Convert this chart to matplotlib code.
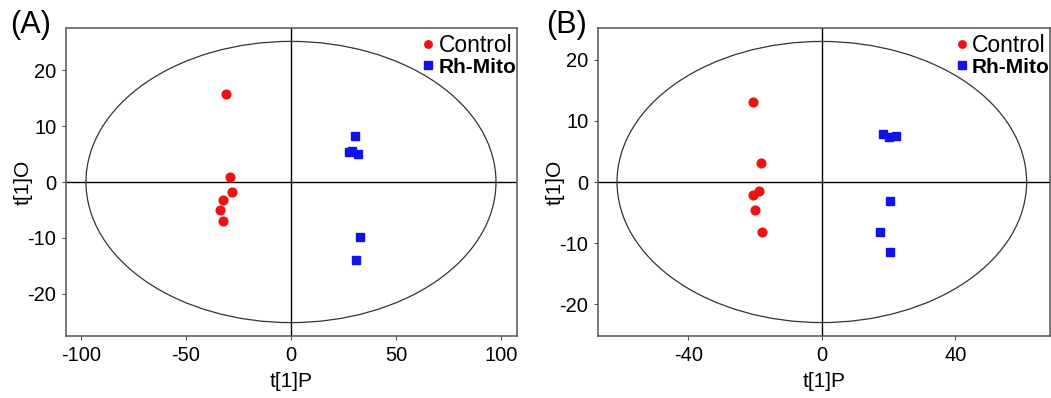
import matplotlib
matplotlib.use("Agg")
import matplotlib.pyplot as plt
from matplotlib.patches import Ellipse

plt.rcParams['font.family'] = ['Liberation Sans', 'DejaVu Sans']
plt.rcParams['axes.unicode_minus'] = False

# panel A scores
a_ctrl_x = [-31.0, -29.0, -27.9, -32.5, -33.7, -32.2]
a_ctrl_y = [15.8, 0.95, -1.85, -3.2, -5.1, -6.9]
a_mito_x = [30.6, 27.5, 29.0, 32.1, 32.8, 30.9]
a_mito_y = [8.2, 5.4, 5.6, 5.0, -9.85, -14.0]

# panel B scores
b_ctrl_x = [-20.6, -18.1, -18.7, -20.6, -20.0, -17.9]
b_ctrl_y = [13.1, 3.06, -1.42, -2.19, -4.65, -8.15]
b_mito_x = [18.3, 20.2, 22.2, 20.4, 17.4, 20.4]
b_mito_y = [7.87, 7.33, 7.49, -3.17, -8.15, -11.5]

fig = plt.figure(figsize=(10.51, 3.98), dpi=100)
ax1 = fig.add_axes([66 / 1051, 62 / 398, (517 - 66) / 1051, 308 / 398])
ax2 = fig.add_axes([598 / 1051, 62 / 398, (1050 - 598) / 1051, 308 / 398])


def draw(ax, cx, cy, mx, my, xlim, ylim, ell, xticks):
    ax.axhline(0, color='black', lw=1, zorder=1)
    ax.axvline(0, color='black', lw=1, zorder=1)
    ax.add_patch(Ellipse((0, 0), 2 * ell[0], 2 * ell[1], fill=False,
                         edgecolor='#333333', lw=0.9, zorder=1))
    ax.plot(cx, cy, 'o', color='#ee1111', ms=6.3, ls='none', label='Control', zorder=3)
    ax.plot(mx, my, 's', color='#1111ee', ms=6.0, ls='none', label='Rh-Mito', zorder=3)
    ax.set_xlim(*xlim)
    ax.set_ylim(*ylim)
    ax.set_xticks(xticks)
    ax.set_yticks([-20, -10, 0, 10, 20])
    ax.tick_params(labelsize=14.5, length=3, color='#555555', pad=4)
    for s in ax.spines.values():
        s.set_color('#555555')
        s.set_linewidth(1.1)
    ax.set_xlabel('t[1]P', fontsize=15, labelpad=5)
    ax.set_ylabel('t[1]O', fontsize=15, labelpad=-4)
    leg = ax.legend(loc='upper right', bbox_to_anchor=(1.012, 1.0), frameon=False,
                    fontsize=16.5, handlelength=0.5, handletextpad=0.2, labelspacing=0.0,
                    borderaxespad=0.0, borderpad=0.25, markerscale=0.85)
    leg.get_texts()[1].set_fontweight('bold')
    leg.get_texts()[1].set_fontsize(15)


draw(ax1, a_ctrl_x, a_ctrl_y, a_mito_x, a_mito_y, (-107, 107.5), (-27.6, 27.6),
     (97.5, 25.2), [-100, -50, 0, 50, 100])
draw(ax2, b_ctrl_x, b_ctrl_y, b_mito_x, b_mito_y, (-67, 68.3), (-25.2, 25.2),
     (61.3, 23.0), [-40, 0, 40])

fig.text(31 / 1051, 1 - 25 / 398, '(A)', fontsize=22, ha='center', va='center')
fig.text(567 / 1051, 1 - 25 / 398, '(B)', fontsize=22, ha='center', va='center')

fig.savefig('out.png', dpi=100)
